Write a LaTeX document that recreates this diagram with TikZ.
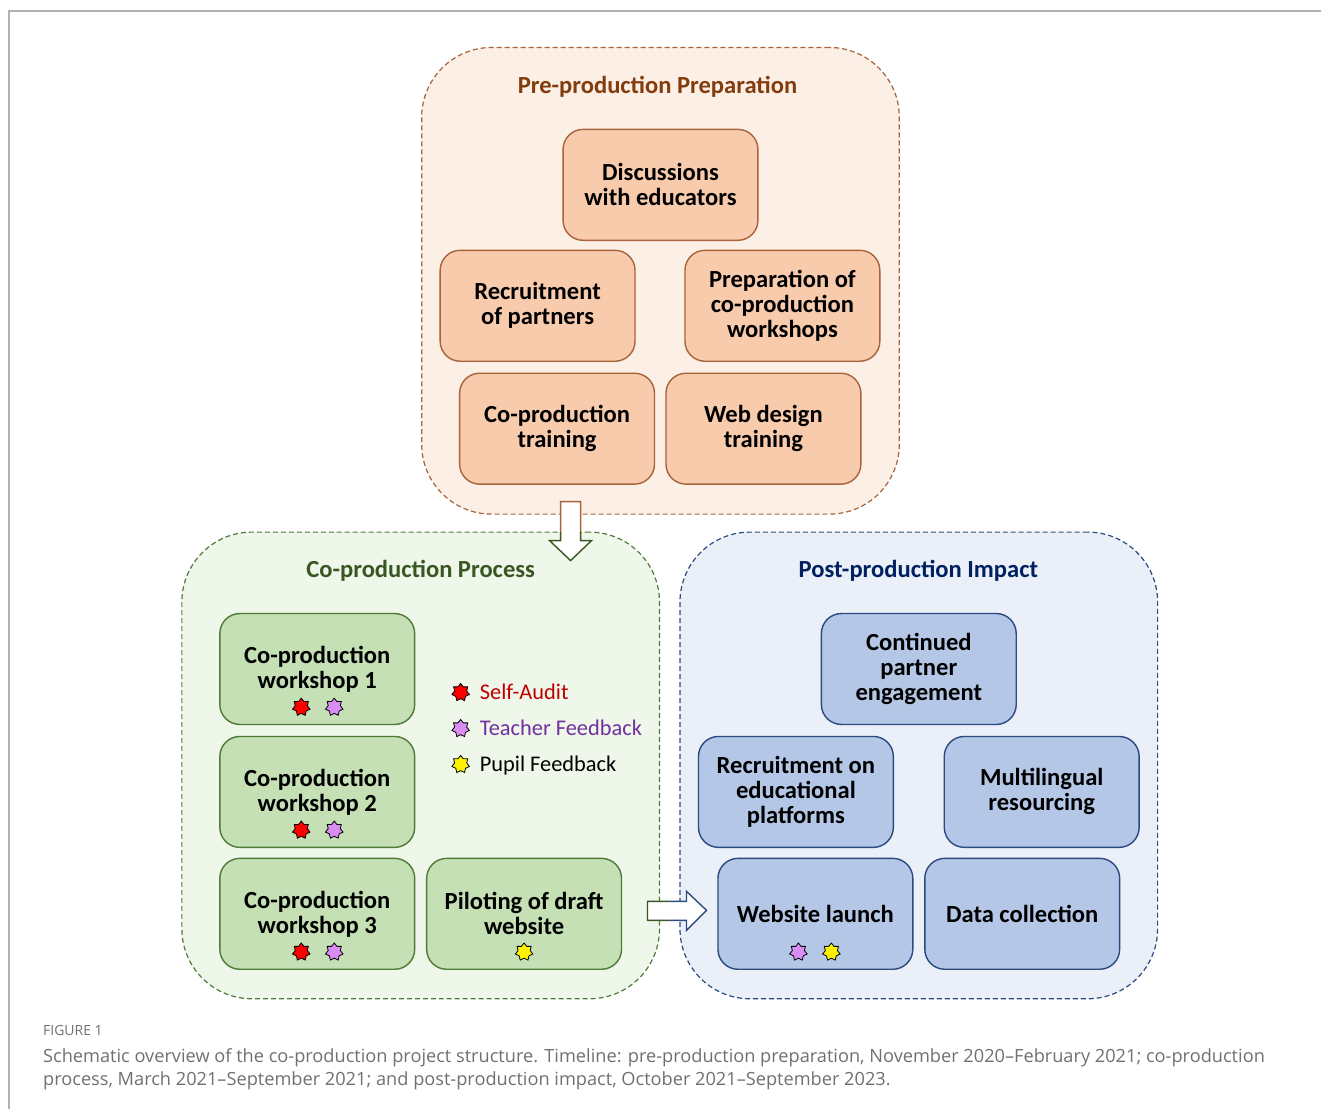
\documentclass[tikz,border=0pt]{standalone}
\usepackage{fontspec}
\setmainfont{Carlito}
\newfontfamily\capfont[Ligatures=TeX]{Open Sans}
\usetikzlibrary{shapes.geometric}
\definecolor{prebg}{HTML}{FBEFE6}
\definecolor{preline}{HTML}{A8633A}
\definecolor{prebox}{HTML}{F8CBAD}
\definecolor{pretitle}{HTML}{843C0C}
\definecolor{cobg}{HTML}{EFF6EA}
\definecolor{coline}{HTML}{4F7A38}
\definecolor{cobox}{HTML}{C5E0B4}
\definecolor{cotitle}{HTML}{385723}
\definecolor{postbg}{HTML}{EAEFF8}
\definecolor{postline}{HTML}{2B4A80}
\definecolor{postbox}{HTML}{B4C7E7}
\definecolor{posttitle}{HTML}{002060}
\definecolor{auditred}{HTML}{C00000}
\definecolor{teachpurple}{HTML}{7030A0}
\definecolor{starviolet}{HTML}{D98CF2}
\definecolor{capgray}{HTML}{707070}
\newcommand{\downpath}{(561,502) -- ++(20,0) -- ++(0,39) -- ++(11,0) -- (571,561) -- (550,541) -- ++(11,0) -- cycle}
\newcommand{\rightpath}{(648,902) -- ++(39,0) -- ++(0,-10) -- (707,911) -- (687,931) -- ++(0,-10) -- ++(-39,0) -- cycle}

\begin{document}
\begin{tikzpicture}[x=1pt, y=-1pt]
        \pgfdeclarelayer{stagelayer}
        \pgfdeclarelayer{arrowlayer}
        \pgfsetlayers{stagelayer,main,arrowlayer}
        \tikzstyle{stage}=[draw, dash pattern=on 5pt off 3pt, line width=1.2pt, rounded corners=70pt, minimum width=478pt, minimum height=467pt, inner sep=0pt]
        \tikzstyle{heading}=[font=\bfseries\fontsize{24.6}{28}\selectfont, inner sep=0pt]
        \tikzstyle{task}=[draw, line width=1.4pt, rounded corners=20pt, minimum width=195pt, minimum height=111pt, inner sep=0pt, align=center, font=\bfseries\fontsize{24.6}{25}\selectfont]
        \tikzstyle{pre task}=[task, fill=prebox, draw=preline]
        \tikzstyle{co task}=[task, fill=cobox, draw=coline]
        \tikzstyle{post task}=[task, fill=postbox, draw=postline]
        \tikzstyle{badge}=[star, star points=7, star point ratio=1.45, minimum size=18pt, inner sep=0pt, draw=black, line width=0.8pt]
        \tikzstyle{legend}=[anchor=base west, inner sep=0pt, font=\fontsize{22.4}{26}\selectfont]
        %\tikzstyle{block}=[fill=white, line width=1.4pt]
        \tikzstyle{block}=[line width=1.4pt, line join=miter]
        \begin{pgfonlayer}{stagelayer}
            \draw [gray!60, line width=2pt] (1322,11) -- (9,11) -- (9,1110);
            \node [style=stage, fill=prebg, draw=preline] (P) at (661,281) {};
            \node [style=stage, fill=cobg, draw=coline] (C) at (421,766) {};
            \node [style=stage, fill=postbg, draw=postline] (I) at (919.5,766) {};
        \end{pgfonlayer}

        % pre-production
        \node [style=heading, text=pretitle] (P0) at (658,86.5) {Pre-production Preparation};
        \node [style=pre task] (P1) at (661,185) {Discussions\\with educators};
        \node [style=pre task] (P2) at (538,306) {Recruitment\\of partners};
        \node [style=pre task] (P3) at (783,306) {Preparation of\\co-production\\workshops};
        \node [style=pre task] (P4) at (557.5,429) {Co-production\\training};
        \node [style=pre task] (P5) at (764,429) {Web design\\training};

        % co-production
        \node [style=heading, text=cotitle] (C0) at (421,571.5) {Co-production Process};
        \node [style=co task] (C1) at (317.5,669.5) {Co-production\\workshop 1};
        \node [style=co task] (C2) at (317.5,792.5) {Co-production\\workshop 2};
        \node [style=co task] (C3) at (317.5,914.5) {Co-production\\workshop 3};
        \node [style=co task] (C4) at (524.5,914.5) {Piloting of draft\\website};
        \foreach \i in {1,2,3} {
            \node [style=badge, fill=red] (s\i) at ([shift={(-16,-18)}]C\i.south) {};
            \node [style=badge, fill=starviolet] (t\i) at ([shift={(17,-18)}]C\i.south) {};
        }
        \node [style=badge, fill=yellow] (u4) at ([shift={(0,-18)}]C4.south) {};

        \node [style=badge, fill=red] (L1) at (461,693) {};
        \node [style=badge, fill=starviolet] (L2) at (461,729) {};
        \node [style=badge, fill=yellow] (L3) at (461,765) {};
        \node [style=legend, text=auditred] at (480,700.5) {Self-Audit};
        \node [style=legend, text=teachpurple] at (480,736.5) {Teacher Feedback};
        \node [style=legend] at (480,772.5) {Pupil Feedback};

        % post-production
        \node [style=heading, text=posttitle] (I0) at (919,571.5) {Post-production Impact};
        \node [style=post task] (I1) at (919.5,669.5) {Continued\\partner\\engagement};
        \node [style=post task] (I2) at (796.5,792.5) {Recruitment on\\educational\\platforms};
        \node [style=post task] (I3) at (1042.5,792.5) {Multilingual\\resourcing};
        \node [style=post task] (I4) at (816,914.5) {Website launch};
        \node [style=post task] (I5) at (1023,914.5) {Data collection};
        \node [style=badge, fill=starviolet] (t4) at ([shift={(-17,-18)}]I4.south) {};
        \node [style=badge, fill=yellow] (u5) at ([shift={(16,-18)}]I4.south) {};

        \begin{pgfonlayer}{arrowlayer}
            \fill [white] \downpath;
            \begin{scope}
                \clip (540,490) rectangle (600,533);
                \draw [style=block, draw=preline] \downpath;
            \end{scope}
            \begin{scope}
                \clip (540,533) rectangle (600,575);
                \draw [style=block, draw=cotitle] \downpath;
            \end{scope}
            \fill [white] \rightpath;
            \begin{scope}
                \clip (640,880) rectangle (670,940);
                \draw [style=block, draw=cotitle] \rightpath;
            \end{scope}
            \begin{scope}
                \clip (670,880) rectangle (715,940);
                \draw [style=block, draw=postline] \rightpath;
            \end{scope}
        \end{pgfonlayer}

        % caption
        \node [anchor=base west, inner sep=0pt, text=capgray, font=\capfont\fontsize{14}{16}\selectfont] (F0) at (43,1036) {FIGURE 1};
        \node [anchor=base west, inner sep=0pt, text=capgray, font=\capfont\fontsize{18.2}{20}\selectfont] (F1) at (43,1063) {Schematic overview of the co-production project structure. Timeline: pre-production preparation, November 2020--February 2021; co-production};
        \node [anchor=base west, inner sep=0pt, text=capgray, font=\capfont\fontsize{18.2}{20}\selectfont] (F2) at (43,1086) {process, March 2021--September 2021; and post-production impact, October 2021--September 2023.};
        \useasboundingbox (0,0) rectangle (1322,1110);
\end{tikzpicture}
\end{document}
